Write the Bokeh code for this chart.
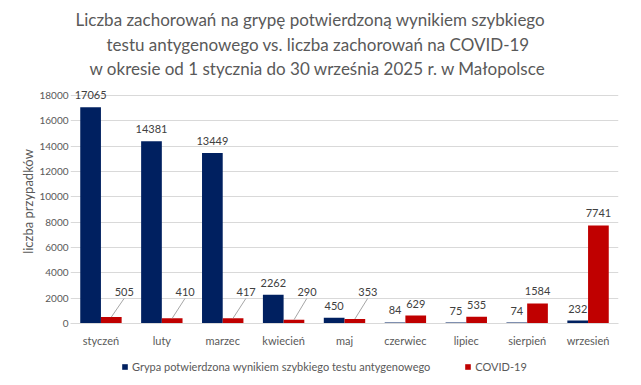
from bokeh.plotting import figure
from bokeh.layouts import column
from bokeh.models import (ColumnDataSource, FactorRange, FixedTicker, Title,
                          Legend, LegendItem, Range1d)
from bokeh.transform import dodge
from bokeh.core.properties import value
from bokeh.embed import file_html
from bokeh.resources import INLINE

# ---- data ----
months = ["styczeń", "luty", "marzec", "kwiecień", "maj",
          "czerwiec", "lipiec", "sierpień", "wrzesień"]
grypa = [17065, 14381, 13449, 2262, 450, 84, 75, 74, 232]
covid = [505, 410, 417, 290, 353, 629, 535, 1584, 7741]
y_ticks = [0, 2000, 4000, 6000, 8000, 10000, 12000, 14000, 16000, 18000]
series_names = ["Grypa potwierdzona wynikiem szybkiego testu antygenowego",
                "COVID-19"]
title_lines = ["Liczba zachorowań na grypę potwierdzoną wynikiem szybkiego",
               "testu antygenowego vs. liczba zachorowań na COVID-19",
               "w okresie od 1 stycznia do 30 września 2025 r. w Małopolsce"]
y_label = "liczba przypadków"
leader_months = ["styczeń", "luty", "marzec", "kwiecień", "maj"]

# ---- style ----
FONT = "Lato"
BLUE = "#002060"
RED = "#C00000"
GRID = "#D9D9D9"
AXIS_TXT = "#595959"
LBL_TXT = "#404040"
BAR_W = 0.34
OFF = 0.17
Y_END = 19260
LEADER_Y = 2450      # label height for labels with leader lines
LEADER_END_Y = 1974
LEADER_DX = 0.21
TITLE_OFFSETS = [5, 36, 19]
TITLE_STANDOFFS = [2, 2, 1]

src = ColumnDataSource(dict(
    month=months, grypa=grypa, covid=covid,
    grypa_txt=[str(v) for v in grypa], covid_txt=[str(v) for v in covid]))
lead_idx = [i for i, m in enumerate(months) if m in leader_months]
rest_idx = [i for i, m in enumerate(months) if m not in leader_months]
src_lead = ColumnDataSource(dict(
    month=[months[i] for i in lead_idx],
    covid=[covid[i] for i in lead_idx],
    covid_txt=[str(covid[i]) for i in lead_idx],
    ly=[LEADER_Y] * len(lead_idx),
    ey=[LEADER_END_Y] * len(lead_idx)))
src_rest = ColumnDataSource(dict(
    month=[months[i] for i in rest_idx],
    covid=[covid[i] for i in rest_idx],
    covid_txt=[str(covid[i]) for i in rest_idx]))

p = figure(width=625, height=350,
           x_range=FactorRange(*months, range_padding=0),
           y_range=Range1d(0, Y_END), output_backend="svg", toolbar_location=None,
           min_border_left=70, min_border_right=7, min_border_top=79,
           min_border_bottom=27, outline_line_color=None,
           title=title_lines[0])

r1 = p.vbar(x=dodge("month", -OFF, range=p.x_range), top="grypa", width=BAR_W,
            source=src, fill_color=BLUE, line_color=None)
r2 = p.vbar(x=dodge("month", OFF, range=p.x_range), top="covid", width=BAR_W,
            source=src, fill_color=RED, line_color=None)

txt = dict(text_font=value(FONT), text_font_size="11px", text_color=LBL_TXT,
           text_align="center", text_baseline="middle")
p.text(x=dodge("month", -OFF, range=p.x_range), y="grypa", text="grypa_txt",
       source=src, y_offset=-12, **txt)
p.text(x=dodge("month", OFF, range=p.x_range), y="covid", text="covid_txt",
       source=src_rest, y_offset=-12, **txt)
p.text(x=dodge("month", OFF, range=p.x_range), y="ly", text="covid_txt",
       source=src_lead, x_offset=13, **txt)
p.segment(x0=dodge("month", OFF, range=p.x_range), y0="covid",
          x1=dodge("month", OFF + LEADER_DX, range=p.x_range), y1="ey",
          source=src_lead, line_color="#A6A6A6", line_width=1)

# axes
p.yaxis.ticker = FixedTicker(ticks=y_ticks)
p.yaxis.axis_line_color = None
p.yaxis.major_tick_line_color = None
p.yaxis.minor_tick_line_color = None
p.yaxis.major_tick_out = 0
p.yaxis.major_tick_in = 0
p.yaxis.minor_tick_out = 0
p.yaxis.major_label_standoff = 2
p.yaxis.major_label_text_font = FONT
p.yaxis.major_label_text_font_size = "10px"
p.yaxis.major_label_text_color = AXIS_TXT
p.yaxis.axis_label = y_label
p.yaxis.axis_label_text_font = FONT
p.yaxis.axis_label_text_font_size = "13px"
p.yaxis.axis_label_text_font_style = "normal"
p.yaxis.axis_label_text_color = AXIS_TXT
p.yaxis.axis_label_standoff = 0

p.xaxis.axis_line_color = GRID
p.xaxis.major_tick_line_color = None
p.xaxis.minor_tick_line_color = None
p.xaxis.major_tick_out = 0
p.xaxis.major_tick_in = 0
p.xaxis.major_label_standoff = 10
p.xaxis.major_label_text_font = FONT
p.xaxis.major_label_text_font_size = "11px"
p.xaxis.major_label_text_color = AXIS_TXT

p.xgrid.grid_line_color = None
p.ygrid.grid_line_color = GRID
p.ygrid.ticker = FixedTicker(ticks=y_ticks)

# title lines: figure title is outermost, added titles stack outward
def style_title(t, off, so):
    t.align = "left"
    t.offset = off
    t.standoff = so
    t.text_font = FONT
    t.text_font_size = "17px"
    t.text_font_style = "normal"
    t.text_color = AXIS_TXT

style_title(p.title, TITLE_OFFSETS[0], TITLE_STANDOFFS[0])
for idx in [2, 1]:
    t = Title(text=title_lines[idx])
    style_title(t, TITLE_OFFSETS[idx], TITLE_STANDOFFS[idx])
    p.add_layout(t, "above")

# legend strip below the chart (hidden proxy renderers of the same data)
lf = figure(width=625, height=28, x_range=FactorRange(*months),
            y_range=Range1d(0, Y_END),
            x_axis_type=None, y_axis_type=None, output_backend="svg",
            toolbar_location=None, outline_line_color=None,
            min_border_left=0, min_border_right=0, min_border_top=0,
            min_border_bottom=0)
lr1 = lf.vbar(x="month", top="grypa", source=src, width=BAR_W,
              fill_color=BLUE, line_color=None, visible=False)
lr2 = lf.vbar(x="month", top="covid", source=src, width=BAR_W,
              fill_color=RED, line_color=None, visible=False)
legend = Legend(items=[LegendItem(label=series_names[0], renderers=[lr1]),
                       LegendItem(label=series_names[1], renderers=[lr2])],
                orientation="horizontal", location=(51, 5),
                glyph_width=7, glyph_height=7, label_standoff=4, spacing=34,
                label_height=13, padding=0, margin=0, border_line_color=None,
                background_fill_alpha=0,
                label_text_font=FONT, label_text_font_size="11px",
                label_text_color=AXIS_TXT)
lf.add_layout(legend, "center")

layout = column(p, lf, spacing=0)
open("out.html", "w").write(file_html(layout, INLINE))
